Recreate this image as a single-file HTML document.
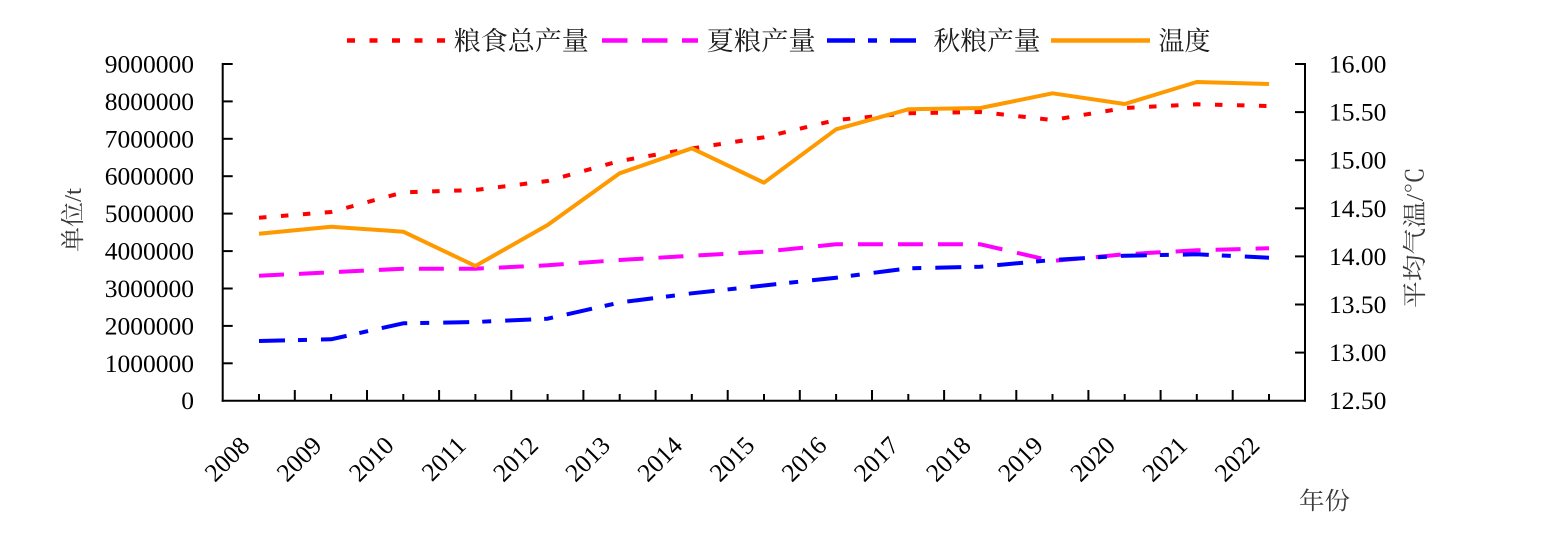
<!DOCTYPE html>
<html><head><meta charset="utf-8"><style>
html,body{margin:0;padding:0;background:#fff;}
svg{display:block;}
text{font-family:"Liberation Serif","Noto Serif CJK SC",serif;}
.tk{font-size:25.5px;fill:#000;}
.cj{font-size:26px;fill:#1a1a1a;}
.at{font-size:24px;fill:#3a3a3a;}
</style></head><body>
<svg width="1544" height="533" viewBox="0 0 1544 533" xmlns="http://www.w3.org/2000/svg">
<rect width="1544" height="533" fill="#fff"/>
<!-- axes -->
<g stroke="#000" stroke-width="2" fill="none">
<line x1="222.7" y1="63" x2="222.7" y2="401.7"/>
<line x1="1305" y1="63" x2="1305" y2="401.7"/>
<line x1="221.7" y1="400.7" x2="1306" y2="400.7"/>
<!-- left ticks -->
<line x1="222.7" y1="64" x2="232.7" y2="64"/>
<line x1="222.7" y1="101.4" x2="232.7" y2="101.4"/>
<line x1="222.7" y1="138.8" x2="232.7" y2="138.8"/>
<line x1="222.7" y1="176.2" x2="232.7" y2="176.2"/>
<line x1="222.7" y1="213.6" x2="232.7" y2="213.6"/>
<line x1="222.7" y1="251.1" x2="232.7" y2="251.1"/>
<line x1="222.7" y1="288.5" x2="232.7" y2="288.5"/>
<line x1="222.7" y1="325.9" x2="232.7" y2="325.9"/>
<line x1="222.7" y1="363.3" x2="232.7" y2="363.3"/>
<!-- right ticks -->
<line x1="1295" y1="64" x2="1305" y2="64"/>
<line x1="1295" y1="112.1" x2="1305" y2="112.1"/>
<line x1="1295" y1="160.2" x2="1305" y2="160.2"/>
<line x1="1295" y1="208.3" x2="1305" y2="208.3"/>
<line x1="1295" y1="256.4" x2="1305" y2="256.4"/>
<line x1="1295" y1="304.5" x2="1305" y2="304.5"/>
<line x1="1295" y1="352.6" x2="1305" y2="352.6"/>
<!-- x major ticks -->
<line x1="294.8" y1="390" x2="294.8" y2="400.7"/>
<line x1="367" y1="390" x2="367" y2="400.7"/>
<line x1="439.1" y1="390" x2="439.1" y2="400.7"/>
<line x1="511.3" y1="390" x2="511.3" y2="400.7"/>
<line x1="583.4" y1="390" x2="583.4" y2="400.7"/>
<line x1="655.6" y1="390" x2="655.6" y2="400.7"/>
<line x1="727.7" y1="390" x2="727.7" y2="400.7"/>
<line x1="799.8" y1="390" x2="799.8" y2="400.7"/>
<line x1="872" y1="390" x2="872" y2="400.7"/>
<line x1="944.1" y1="390" x2="944.1" y2="400.7"/>
<line x1="1016.3" y1="390" x2="1016.3" y2="400.7"/>
<line x1="1088.4" y1="390" x2="1088.4" y2="400.7"/>
<line x1="1160.6" y1="390" x2="1160.6" y2="400.7"/>
<line x1="1232.7" y1="390" x2="1232.7" y2="400.7"/>
<!-- x minor ticks -->
<line x1="259" y1="394" x2="259" y2="400.7"/>
<line x1="331.1" y1="394" x2="331.1" y2="400.7"/>
<line x1="403.3" y1="394" x2="403.3" y2="400.7"/>
<line x1="475.4" y1="394" x2="475.4" y2="400.7"/>
<line x1="547.6" y1="394" x2="547.6" y2="400.7"/>
<line x1="619.7" y1="394" x2="619.7" y2="400.7"/>
<line x1="691.8" y1="394" x2="691.8" y2="400.7"/>
<line x1="764" y1="394" x2="764" y2="400.7"/>
<line x1="836.1" y1="394" x2="836.1" y2="400.7"/>
<line x1="908.3" y1="394" x2="908.3" y2="400.7"/>
<line x1="980.4" y1="394" x2="980.4" y2="400.7"/>
<line x1="1052.5" y1="394" x2="1052.5" y2="400.7"/>
<line x1="1124.7" y1="394" x2="1124.7" y2="400.7"/>
<line x1="1196.8" y1="394" x2="1196.8" y2="400.7"/>
<line x1="1269" y1="394" x2="1269" y2="400.7"/>
</g>
<!-- left labels -->
<g class="tk" text-anchor="end">
<text x="194" y="72.5">9000000</text>
<text x="194" y="109.9">8000000</text>
<text x="194" y="147.3">7000000</text>
<text x="194" y="184.7">6000000</text>
<text x="194" y="222.1">5000000</text>
<text x="194" y="259.6">4000000</text>
<text x="194" y="297">3000000</text>
<text x="194" y="334.4">2000000</text>
<text x="194" y="371.8">1000000</text>
<text x="194" y="409.2">0</text>
</g>
<!-- right labels -->
<g class="tk">
<text x="1329" y="72.5">16.00</text>
<text x="1329" y="120.6">15.50</text>
<text x="1329" y="168.7">15.00</text>
<text x="1329" y="216.8">14.50</text>
<text x="1329" y="264.9">14.00</text>
<text x="1329" y="313">13.50</text>
<text x="1329" y="361.1">13.00</text>
<text x="1329" y="409.2">12.50</text>
</g>
<!-- year labels -->
<g class="tk" text-anchor="end">
<text transform="translate(251,447) rotate(-45)">2008</text>
<text transform="translate(323.1,447) rotate(-45)">2009</text>
<text transform="translate(395.3,447) rotate(-45)">2010</text>
<text transform="translate(467.4,447) rotate(-45)">2011</text>
<text transform="translate(539.6,447) rotate(-45)">2012</text>
<text transform="translate(611.7,447) rotate(-45)">2013</text>
<text transform="translate(683.8,447) rotate(-45)">2014</text>
<text transform="translate(756,447) rotate(-45)">2015</text>
<text transform="translate(828.1,447) rotate(-45)">2016</text>
<text transform="translate(900.3,447) rotate(-45)">2017</text>
<text transform="translate(972.4,447) rotate(-45)">2018</text>
<text transform="translate(1044.5,447) rotate(-45)">2019</text>
<text transform="translate(1116.7,447) rotate(-45)">2020</text>
<text transform="translate(1188.8,447) rotate(-45)">2021</text>
<text transform="translate(1261,447) rotate(-45)">2022</text>
</g>
<!-- axis titles -->
<text class="at" transform="translate(81,252) rotate(-90)" textLength="64" lengthAdjust="spacingAndGlyphs">单位/t</text>
<text class="at" transform="translate(1423,308) rotate(-90)" textLength="141" lengthAdjust="spacingAndGlyphs">平均气温/℃</text>
<text class="at" x="1299" y="509" textLength="51" lengthAdjust="spacingAndGlyphs">年份</text>
<!-- series -->
<g fill="none" stroke-width="4" stroke-linejoin="round">
<polyline stroke="#FF0000" stroke-dasharray="7.5 14.5" points="259,217.7 331.1,212 403.3,192.3 475.4,190 547.6,181 619.7,161 691.8,148.5 764,137.3 836.1,120 908.3,113.3 980.4,112 1052.5,120 1124.7,108 1196.8,104.3 1269,106"/>
<polyline stroke="#FF00FF" stroke-dasharray="25 15" points="259,275.7 331.1,272.3 403.3,268.7 475.4,268.7 547.6,265.3 619.7,260 691.8,255.7 764,251.7 836.1,244.3 908.3,244.3 980.4,244.3 1052.5,261 1124.7,254.3 1196.8,250.3 1269,248.3"/>
<polyline stroke="#0000FF" stroke-dasharray="26 13 9 14" points="259,341 331.1,339.3 403.3,323.3 475.4,322 547.6,318.7 619.7,302.5 691.8,293.3 764,285.5 836.1,277.7 908.3,268.3 980.4,266.7 1052.5,260 1124.7,255.7 1196.8,254.3 1269,257.7"/>
<polyline stroke="#FF9900" points="259,233.7 331.1,226.7 403.3,231.7 475.4,266 547.6,225 619.7,173.3 691.8,148.3 764,182.7 836.1,129.3 908.3,109.3 980.4,108 1052.5,93.3 1124.7,104 1196.8,82 1269,84"/>
</g>
<!-- legend -->
<g fill="none" stroke-width="4.5">
<line x1="347" y1="40.5" x2="446" y2="40.5" stroke="#FF0000" stroke-dasharray="8 14.5"/>
<line x1="602" y1="40.5" x2="698" y2="40.5" stroke="#FF00FF" stroke-dasharray="25.5 14.5"/>
<line x1="827" y1="40.5" x2="916" y2="40.5" stroke="#0000FF" stroke-dasharray="28 13 9 13"/>
<line x1="1051" y1="40.5" x2="1150" y2="40.5" stroke="#FF9900"/>
</g>
<g class="cj">
<text x="453.8" y="50" textLength="135" lengthAdjust="spacingAndGlyphs">粮食总产量</text>
<text x="706.7" y="50" textLength="109" lengthAdjust="spacingAndGlyphs">夏粮产量</text>
<text x="933.5" y="50" textLength="107" lengthAdjust="spacingAndGlyphs">秋粮产量</text>
<text x="1158.5" y="50" textLength="52" lengthAdjust="spacingAndGlyphs">温度</text>
</g>
</svg>
</body></html>
